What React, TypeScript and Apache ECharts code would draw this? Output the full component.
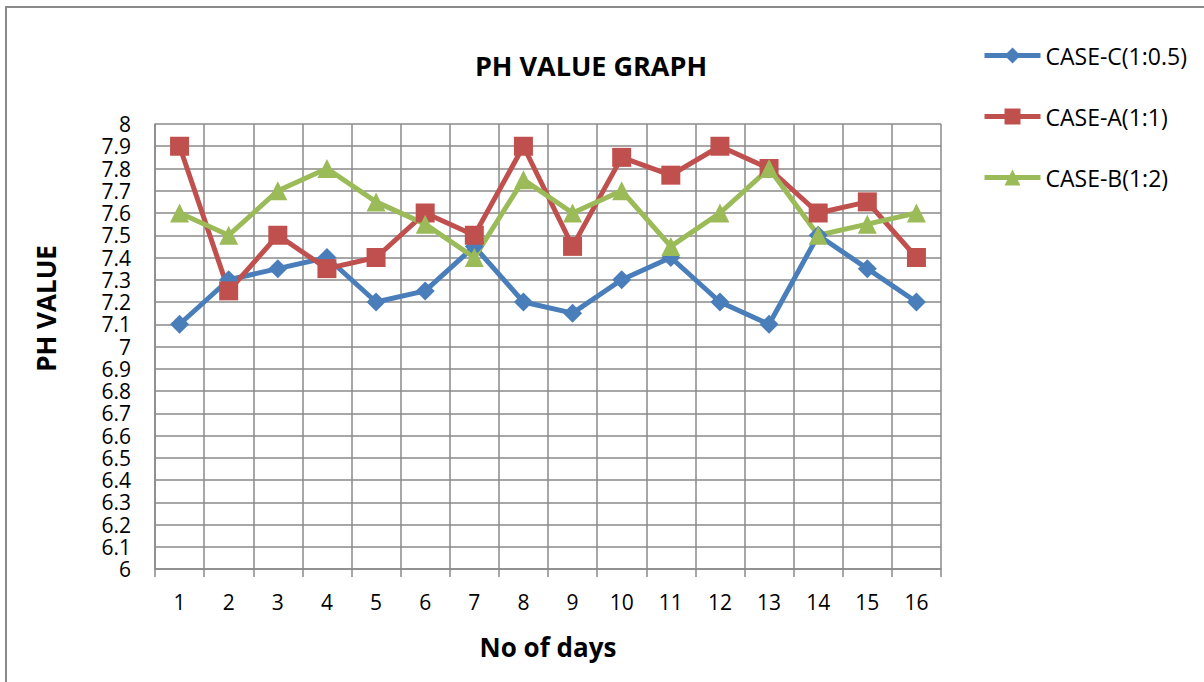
import React, { useEffect, useRef } from "react";
import * as echarts from "echarts";

const days = ["1", "2", "3", "4", "5", "6", "7", "8", "9", "10", "11", "12", "13", "14", "15", "16"];
const caseC = [7.1, 7.3, 7.35, 7.4, 7.2, 7.25, 7.45, 7.2, 7.15, 7.3, 7.4, 7.2, 7.1, 7.5, 7.35, 7.2];
const caseA = [7.9, 7.25, 7.5, 7.35, 7.4, 7.6, 7.5, 7.9, 7.45, 7.85, 7.77, 7.9, 7.8, 7.6, 7.65, 7.4];
const caseB = [7.6, 7.5, 7.7, 7.8, 7.65, 7.55, 7.4, 7.75, 7.6, 7.7, 7.45, 7.6, 7.8, 7.5, 7.55, 7.6];

const FONT = "'Open Sans', sans-serif";
const GRID = "#8a8a8a";

export default function App() {
  const ref = useRef<HTMLDivElement>(null);
  useEffect(() => {
    if (!ref.current) return;
    const chart = echarts.init(ref.current, null, { renderer: "svg" });
    const mk = (name: string, data: number[], color: string, symbol: string, size: number) => ({
      name,
      type: "line",
      data,
      symbol,
      symbolSize: size,
      lineStyle: { color, width: 5 },
      itemStyle: { color },
      emphasis: { disabled: true },
    });
    chart.setOption({
      animation: false,
      backgroundColor: "#ffffff",
      textStyle: { fontFamily: FONT },
      title: {
        text: "PH VALUE GRAPH",
        left: 586,
        top: 47,
        textAlign: "center",
        textStyle: { fontFamily: FONT, fontWeight: "bold", fontSize: 27, color: "#000" },
      },
      legend: {
        orient: "vertical",
        left: 977,
        top: 39,
        itemWidth: 56,
        itemHeight: 20,
        itemGap: 38,
        lineStyle: { width: 5 },
        textStyle: { fontFamily: FONT, fontSize: 23, color: "#000", lineHeight: 22 },
        data: ["CASE-C(1:0.5)", "CASE-A(1:1)", "CASE-B(1:2)"],
      },
      graphic: [
        {
          type: "rect",
          shape: { x: 6, y: 7, width: 1400, height: 900 },
          style: { fill: "none", stroke: "#8a8a8a", lineWidth: 2 },
          silent: true,
        },
      ],
      grid: { left: 155, top: 124, width: 786, height: 445 },
      xAxis: {
        type: "category",
        data: days,
        boundaryGap: true,
        name: "No of days",
        nameLocation: "middle",
        nameGap: 65,
        nameTextStyle: { fontFamily: FONT, fontWeight: "bold", fontSize: 26, color: "#000" },
        axisLine: { lineStyle: { color: GRID, width: 1.5 } },
        axisTick: { show: true, length: 8, lineStyle: { color: GRID, width: 1.5 } },
        axisLabel: { fontFamily: FONT, fontSize: 21, color: "#000", margin: 22 },
        splitLine: { show: true, lineStyle: { color: GRID, width: 1.5 } },
      },
      yAxis: {
        type: "value",
        min: 6,
        max: 8,
        interval: 0.1,
        name: "PH VALUE",
        nameLocation: "middle",
        nameGap: 96,
        nameRotate: 90,
        nameTextStyle: {
          fontFamily: FONT,
          fontWeight: "bold",
          fontSize: 26,
          color: "#000",
          padding: [0, 0, 0, 76],
        },
        axisLine: { show: true, lineStyle: { color: GRID, width: 1.5 } },
        axisTick: { show: false },
        axisLabel: {
          fontFamily: FONT,
          fontSize: 21,
          lineHeight: 20,
          color: "#000",
          margin: 24,
          formatter: (v: number) => String(Number(v.toFixed(1))),
        },
        splitLine: { show: true, lineStyle: { color: GRID, width: 1.5 } },
      },
      series: [
        mk("CASE-C(1:0.5)", caseC, "#4a7ebb", "diamond", 19),
        mk("CASE-A(1:1)", caseA, "#c0504d", "rect", 19),
        mk("CASE-B(1:2)", caseB, "#9bbb59", "triangle", 19),
      ],
    });
    return () => chart.dispose();
  }, []);
  return (
    <div
      ref={ref}
      style={{ position: "absolute", left: 0, top: 0, width: 1204, height: 682 }}
    />
  );
}
